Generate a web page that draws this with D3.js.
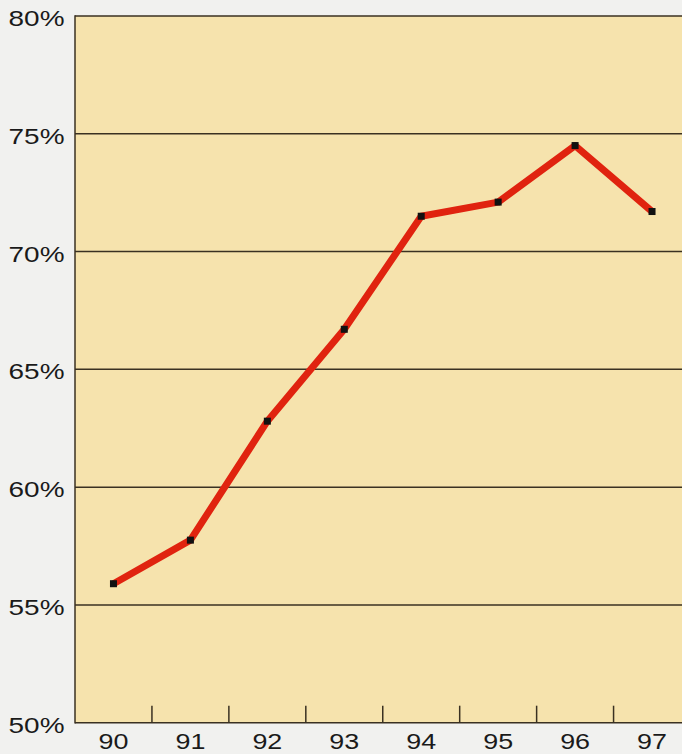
<!DOCTYPE html>
<html>
<head>
<meta charset="utf-8">
<script src="https://cdn.jsdelivr.net/npm/d3@7"></script>
<style>
  html, body { margin: 0; padding: 0; background: #f1f1ef; }
  svg { display: block; }
</style>
</head>
<body>
<svg id="chart" width="682" height="754"></svg>
<script>
const years = ["90", "91", "92", "93", "94", "95", "96", "97"];
const values = [55.9, 57.75, 62.8, 66.7, 71.5, 72.1, 74.5, 71.7];
const yTicks = [50, 55, 60, 65, 70, 75, 80];

(function () {
const svg = d3.select("#chart");
const mLeft = 75, mTop = 16, mBottom = 722.7, mRight = 690.5;

const x = d3.scaleBand().domain(years).range([mLeft, mRight]).paddingInner(0).paddingOuter(0);
const y = d3.scaleLinear().domain([50, 80]).range([mBottom, mTop]);

// plot background
svg.append("rect")
  .attr("x", mLeft).attr("y", mTop)
  .attr("width", 682 - mLeft).attr("height", mBottom - mTop)
  .attr("fill", "#f6e3ad");

// gridlines
svg.append("g").selectAll("line").data(yTicks).join("line")
  .attr("x1", mLeft).attr("x2", 682)
  .attr("y1", d => y(d)).attr("y2", d => y(d))
  .attr("stroke", "#3a3122").attr("stroke-width", 1.5);

// left axis line
svg.append("line")
  .attr("x1", mLeft).attr("x2", mLeft).attr("y1", mTop - 0.75).attr("y2", mBottom + 0.75)
  .attr("stroke", "#3a3122").attr("stroke-width", 1.5);

// y labels (wide grotesque face: horizontally stretched)
svg.append("g").selectAll("text").data(yTicks).join("text")
  .attr("transform", d => `translate(64.5,${y(d) + 10}) scale(1.3,1)`)
  .attr("text-anchor", "end")
  .attr("font-family", "Liberation Sans, Arial, sans-serif")
  .attr("font-size", 21.5).attr("fill", "#1a1a1a")
  .text(d => d + "%");

// x ticks at band boundaries
svg.append("g").selectAll("line").data(years.slice(1)).join("line")
  .attr("x1", d => x(d)).attr("x2", d => x(d))
  .attr("y1", mBottom - 17).attr("y2", mBottom)
  .attr("stroke", "#3a3122").attr("stroke-width", 1.5);

// x labels
svg.append("g").selectAll("text").data(years).join("text")
  .attr("transform", d => `translate(${x(d) + x.bandwidth() / 2},749.3) scale(1.25,1)`)
  .attr("text-anchor", "middle")
  .attr("font-family", "Liberation Sans, Arial, sans-serif")
  .attr("font-size", 21.5).attr("fill", "#1a1a1a")
  .text(d => d);

const pts = years.map((yr, i) => [x(yr) + x.bandwidth() / 2, y(values[i])]);

svg.append("path")
  .attr("d", d3.line()(pts))
  .attr("fill", "none").attr("stroke", "#e0230f")
  .attr("stroke-width", 7).attr("stroke-linejoin", "round");

svg.append("g").selectAll("rect").data(pts).join("rect")
  .attr("x", d => d[0] - 3.5).attr("y", d => d[1] - 3.5)
  .attr("width", 7).attr("height", 7)
  .attr("fill", "#111");
})();
</script>
</body>
</html>
